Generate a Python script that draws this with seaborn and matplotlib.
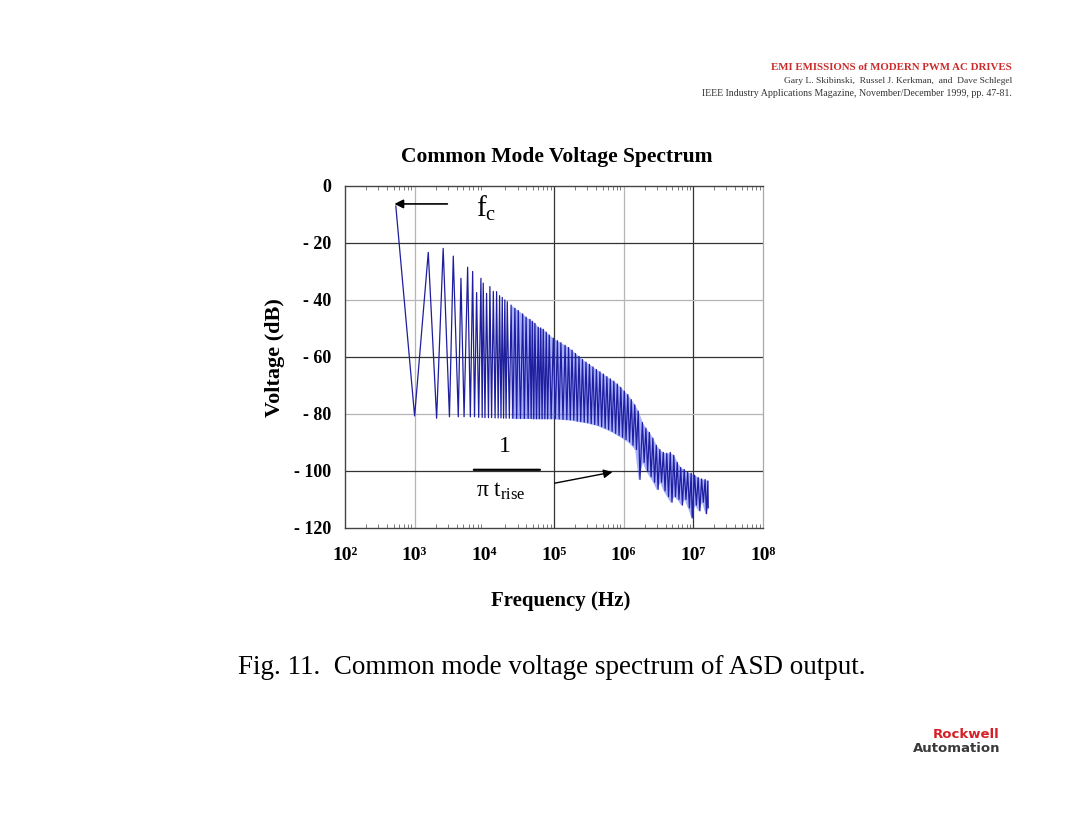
import numpy as np
import pandas as pd
import matplotlib
matplotlib.use("Agg")
import matplotlib.pyplot as plt
import seaborn as sns

# ------------------------------------------------------------
# data (frequency as log10 Hz, level in dB)
# ------------------------------------------------------------
peak_logf = [2.73, 3.196, 3.41, 3.555, 3.665, 3.761, 3.833, 3.89, 3.952, 3.985,
             4.033, 4.081, 4.13, 4.177, 4.22, 4.258, 4.295, 4.33, 4.385, 4.44,
             4.488, 4.551, 4.60, 4.656, 4.69, 4.727, 4.775, 4.81, 4.847, 4.89,
             4.933, 4.991, 5.05, 5.10, 5.16, 5.21, 5.26, 5.31, 5.36, 5.41,
             5.46, 5.51, 5.56, 5.61, 5.66, 5.71, 5.76, 5.81, 5.86, 5.91,
             5.96, 6.01, 6.06, 6.11, 6.16, 6.21, 6.27, 6.32, 6.37, 6.42,
             6.47, 6.52, 6.57, 6.62, 6.67, 6.72, 6.77, 6.82, 6.87, 6.92,
             6.97, 7.02, 7.07, 7.12, 7.17, 7.21]
peak_db = [-7.0, -23.3, -21.9, -24.6, -32.4, -28.5, -30.0, -37.4, -32.4, -34.1,
           -37.7, -35.3, -37.0, -37.1, -38.5, -39.1, -40.0, -40.6, -41.8, -42.9,
           -43.7, -44.9, -46.0, -46.8, -47.5, -48.2, -49.6, -49.8, -50.3, -51.3,
           -52.3, -53.4, -54.3, -55.0, -55.9, -56.7, -57.6, -58.8, -59.8, -60.9,
           -61.8, -62.6, -63.5, -64.4, -65.2, -66.0, -66.9, -67.7, -68.5, -69.5,
           -70.7, -72.0, -73.2, -75.0, -76.8, -79.0, -83.0, -85.0, -86.5, -88.5,
           -91.0, -92.5, -93.5, -93.8, -93.5, -94.5, -97.0, -98.8, -99.5, -100.5,
           -100.8, -101.5, -102.3, -102.8, -103.0, -103.5]
trough_logf = [3.0, 3.316, 3.50, 3.627, 3.71, 3.80, 3.86, 3.92, 3.97, 4.01,
               4.06, 4.105, 4.155, 4.20, 4.24, 4.277, 4.313, 4.36, 4.41, 4.465,
               4.52, 4.575, 4.63, 4.673, 4.71, 4.75, 4.79, 4.83, 4.87, 4.91,
               4.96, 5.02, 5.075, 5.13, 5.185, 5.235, 5.285, 5.335, 5.385, 5.435,
               5.485, 5.535, 5.585, 5.635, 5.685, 5.735, 5.785, 5.835, 5.885, 5.935,
               5.985, 6.035, 6.085, 6.135, 6.185, 6.235, 6.295, 6.345, 6.395, 6.445,
               6.495, 6.545, 6.595, 6.645, 6.695, 6.745, 6.795, 6.845, 6.895, 6.945,
               6.985, 7.045, 7.095, 7.145, 7.19, 7.215]
trough_db = [-80.7, -81.5, -81.0, -81.0, -81.0, -81.0, -81.0, -81.2, -81.2, -81.3,
             -81.3, -81.3, -81.4, -81.4, -81.4, -81.5, -81.5, -81.5, -81.5, -81.6,
             -81.6, -81.6, -81.6, -81.6, -81.7, -81.7, -81.7, -81.7, -81.7, -81.7,
             -81.7, -81.7, -81.8, -81.9, -82.0, -82.1, -82.2, -82.5, -82.7, -82.9,
             -83.1, -83.4, -83.7, -84.0, -84.5, -85.0, -85.5, -86.1, -86.8, -87.5,
             -88.2, -89.0, -89.8, -91.0, -92.5, -103.0, -97.0, -100.0, -102.0, -104.0,
             -106.5, -104.0, -107.0, -109.0, -111.0, -109.0, -110.0, -112.0, -110.0, -113.0,
             -116.5, -112.0, -114.0, -111.0, -115.0, -113.0]

decade_labels = ["10²", "10³", "10⁴", "10⁵", "10⁶", "10⁷", "10⁸"]
y_ticks = [0, -20, -40, -60, -80, -100, -120]
y_labels = ["0", "- 20", "- 40", "- 60", "- 80", "- 100", "- 120"]

# ------------------------------------------------------------
# zigzag: peak -> following trough -> next peak ...
# ------------------------------------------------------------
zig_logf = np.ravel(np.column_stack([peak_logf, trough_logf]))
zig_db = np.ravel(np.column_stack([peak_db, trough_db]))
df = pd.DataFrame({"freq": 10 ** zig_logf, "db": zig_db})

sns.set_style("white")
plt.rcParams["font.family"] = ["Liberation Serif", "DejaVu Serif"]
plt.rcParams["text.color"] = "black"
plt.rcParams["xtick.color"] = "black"
plt.rcParams["ytick.color"] = "black"
plt.rcParams["mathtext.fontset"] = "custom"
plt.rcParams["mathtext.rm"] = "Liberation Serif"
plt.rcParams["mathtext.it"] = "Liberation Serif:italic"
plt.rcParams["mathtext.bf"] = "Liberation Serif:bold"

fig = plt.figure(figsize=(10.8, 8.34), dpi=100)
ax = fig.add_axes([0.3194, 0.367, 0.387, 0.410])

# grid: alternating dark / light lines as in the original
for xv, c in [(1e3, "#b5b5b5"), (1e5, "#333333"), (1e6, "#b5b5b5"), (1e7, "#333333")]:
    ax.axvline(xv, color=c, lw=0.9, zorder=0)
for yv, c in [(-20, "#333333"), (-40, "#b5b5b5"), (-60, "#333333"), (-80, "#b5b5b5"), (-100, "#333333")]:
    ax.axhline(yv, color=c, lw=0.9, zorder=0)

# blue body of the dense part of the spectrum
pf = np.array(peak_logf)
mask = pf > 4.35
ax.fill_between(10 ** pf[mask], np.array(peak_db)[mask],
                np.array(trough_db)[mask], color="#2f45ff", alpha=0.42,
                lw=0, zorder=1)

sns.lineplot(data=df, x="freq", y="db", sort=False, estimator=None,
             color="#1e1e9e", lw=0.9, ax=ax, zorder=2)

ax.set_xscale("log")
ax.set_xlim(1e2, 1e8)
ax.set_ylim(-120, 0)
ax.set_xticks([10 ** k for k in range(2, 9)])
ax.set_xticklabels(decade_labels)
ax.set_yticks(y_ticks)
ax.set_yticklabels(y_labels)
ax.set_xlabel("")
ax.set_ylabel("")
ax.minorticks_on()
ax.yaxis.set_minor_locator(matplotlib.ticker.NullLocator())
ax.tick_params(axis="x", which="major", length=0, pad=14, labelsize=14)
ax.tick_params(axis="y", which="major", length=0, pad=10, labelsize=13)
ax.tick_params(axis="x", which="minor", direction="in", length=3, width=0.6,
               color="#666666", top=True, bottom=True)
for lab in ax.get_xticklabels() + ax.get_yticklabels():
    lab.set_fontweight("bold")

for side in ["left", "bottom", "top"]:
    ax.spines[side].set_color("#444444")
    ax.spines[side].set_linewidth(1.0)
ax.spines["right"].set_color("#aaaaaa")
ax.spines["right"].set_linewidth(0.9)

# annotations
ax.annotate("", xy=(10 ** 2.67, -6.3), xytext=(10 ** 3.51, -6.3),
            arrowprops=dict(arrowstyle="-|>", color="black", lw=1.2,
                            mutation_scale=13))
ax.text(10 ** 3.88, -8, r"$\mathrm{f_c}$", fontsize=21, ha="left", va="center")
ax.text(10 ** 4.29, -91.5, "1", fontsize=17, ha="center", va="center")
ax.annotate("", xy=(10 ** 3.85, -99.6), xytext=(10 ** 4.80, -99.6),
            arrowprops=dict(arrowstyle="-", color="black", lw=1.6,
                            shrinkA=0, shrinkB=0))
ax.text(10 ** 4.24, -107, r"$\mathrm{\pi\ t_{rise}}$", fontsize=17,
        ha="center", va="center")
ax.annotate("", xy=(10 ** 5.84, -100.4), xytext=(10 ** 5.01, -104.3),
            arrowprops=dict(arrowstyle="-|>", color="black", lw=1.0,
                            mutation_scale=13, shrinkA=0, shrinkB=0))

# titles and labels
fig.text(557 / 1080, 1 - 157 / 834, "Common Mode Voltage Spectrum",
         fontsize=15.5, fontweight="bold", ha="center", va="center")
fig.text(561 / 1080, 1 - 601 / 834, "Frequency (Hz)", fontsize=15,
         fontweight="bold", ha="center", va="center")
fig.text(275 / 1080, 1 - 358 / 834, "Voltage (dB)", fontsize=16,
         fontweight="bold", ha="center", va="center", rotation=90)
fig.text(552 / 1080, 1 - 668 / 834,
         "Fig. 11.  Common mode voltage spectrum of ASD output.",
         fontsize=19.5, ha="center", va="center")

# header
fig.text(1012 / 1080, 1 - 68 / 834, "EMI EMISSIONS of MODERN PWM AC DRIVES",
         fontsize=7.8, fontweight="bold", color="#cc2a2a", ha="right", va="center")
fig.text(1012 / 1080, 1 - 81 / 834,
         "Gary L. Skibinski,  Russel J. Kerkman,  and  Dave Schlegel",
         fontsize=6.8, color="#333333", ha="right", va="center")
fig.text(1012 / 1080, 1 - 93 / 834,
         "IEEE Industry Applications Magazine, November/December 1999, pp. 47-81.",
         fontsize=7.1, color="#333333", ha="right", va="center")

# logo
fig.text(1000 / 1080, 1 - 734 / 834, "Rockwell", fontsize=9.5, fontweight="bold",
         family="DejaVu Sans", color="#d62027", ha="right", va="center")
fig.text(1000 / 1080, 1 - 748 / 834, "Automation", fontsize=9.5, fontweight="bold",
         family="DejaVu Sans", color="#3a3a3a", ha="right", va="center")

fig.savefig("out.png", dpi=100)
